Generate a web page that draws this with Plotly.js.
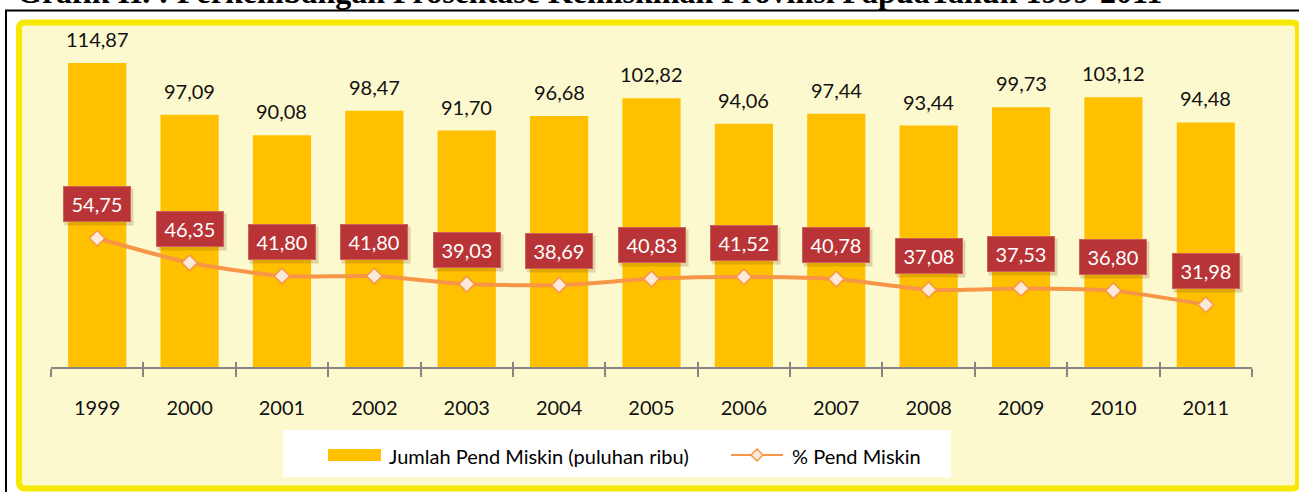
<!DOCTYPE html>
<html><head><meta charset="utf-8">
<script src="https://cdn.plot.ly/plotly-3.0.1.min.js"></script>
<style>html,body{margin:0;padding:0;background:#fff;overflow:hidden}</style>
</head><body>
<div id="chart" style="width:1299px;height:492px"></div>
<script>
// ---- data ----
const years = ['1999','2000','2001','2002','2003','2004','2005','2006','2007','2008','2009','2010','2011'];
const jumlahMiskin = [114.87, 97.09, 90.08, 98.47, 91.70, 96.68, 102.82, 94.06, 97.44, 93.44, 99.73, 103.12, 94.48];
const persenMiskin = [54.75, 46.35, 41.80, 41.80, 39.03, 38.69, 40.83, 41.52, 40.78, 37.08, 37.53, 36.80, 31.98];
const seriesNames = ['Jumlah Pend Miskin (puluhan ribu)', '% Pend Miskin'];
const chartTitle = 'Grafik II. : Perkembangan Prosentase Kemiskinan Provinsi PapuaTahun 1999-2011';

// ---- styling / geometry ----
const W = 1299, H = 492;
const M = {l: 51, r: 47, t: 30, b: 125};
const PW = W - M.l - M.r, PH = H - M.t - M.b;
const px = x => (x - M.l) / PW;
const py = y => (H - M.b - y) / PH;
const fmt = v => v.toFixed(2).replace('.', ',');
const BAR = '#ffc000', LINE = '#f79646', MARK = '#fde9d9';
const FONT = 'Lato, "Open Sans", sans-serif';

function roundRect(x0, y0, x1, y1, r) {
  const X = v => px(v), Y = v => py(v);
  return `M${X(x0 + r)},${Y(y0)} L${X(x1 - r)},${Y(y0)} Q${X(x1)},${Y(y0)} ${X(x1)},${Y(y0 + r)} ` +
         `L${X(x1)},${Y(y1 - r)} Q${X(x1)},${Y(y1)} ${X(x1 - r)},${Y(y1)} ` +
         `L${X(x0 + r)},${Y(y1)} Q${X(x0)},${Y(y1)} ${X(x0)},${Y(y1 - r)} ` +
         `L${X(x0)},${Y(y0 + r)} Q${X(x0)},${Y(y0)} ${X(x0 + r)},${Y(y0)} Z`;
}

const traces = [
  {type: 'bar', x: years, y: jumlahMiskin, name: seriesNames[0],
   marker: {color: BAR}, width: 0.63, showlegend: false, hoverinfo: 'skip'},
  {type: 'scatter', mode: 'lines+markers', x: years, y: persenMiskin, name: seriesNames[1],
   line: {color: LINE, width: 4, shape: 'spline', smoothing: 0.6},
   marker: {symbol: 'diamond', size: 12, color: MARK, line: {color: LINE, width: 1.5}},
   showlegend: false, hoverinfo: 'skip'},
  {type: 'scatter', mode: 'markers', x: years, y: persenMiskin, xaxis: 'x2',
   marker: {opacity: 0}, showlegend: false, hoverinfo: 'skip'}
];

const shapes = [
  // outer black frame
  {type: 'path', xref: 'paper', yref: 'paper', layer: 'below',
   path: `M${px(6)},${py(520)} L${px(6)},${py(10.5)} L${px(1320)},${py(10.5)}`,
   line: {color: '#000', width: 2}},
  // yellow rounded panel
  {type: 'path', xref: 'paper', yref: 'paper', layer: 'below',
   path: roundRect(19, 22.5, 1298, 488.5, 6),
   fillcolor: '#fdf9cf', line: {color: '#f6e800', width: 6}},
  // legend box
  {type: 'rect', xref: 'paper', yref: 'paper', layer: 'below',
   x0: px(283), x1: px(951), y0: py(477), y1: py(430),
   fillcolor: '#ffffff', line: {width: 0}},
  // legend bar swatch
  {type: 'rect', xref: 'paper', yref: 'paper', layer: 'below',
   x0: px(328), x1: px(381), y0: py(461), y1: py(449),
   fillcolor: BAR, line: {width: 0}},
  // legend line
  {type: 'line', xref: 'paper', yref: 'paper', layer: 'below',
   x0: px(731), x1: px(783), y0: py(455), y1: py(455),
   line: {color: LINE, width: 2}},
  // legend diamond
  {type: 'path', xref: 'paper', yref: 'paper', layer: 'below',
   path: `M${px(751)},${py(455)} L${px(757)},${py(449)} L${px(763)},${py(455)} L${px(757)},${py(461)} Z`,
   fillcolor: MARK, line: {color: LINE, width: 1.5}}
];

const annotations = [];
// title (partly cut off at the top, as in the source)
annotations.push({xref: 'paper', yref: 'paper', x: px(15), y: py(12), xanchor: 'left', yanchor: 'bottom',
  text: '<b>' + chartTitle + '</b>', showarrow: false,
  font: {family: '"Liberation Serif", "Times New Roman", serif', size: 32, color: '#000'}});
// bar value labels (x given as category index)
years.forEach((yr, i) => {
  annotations.push({x: i, y: jumlahMiskin[i], xref: 'x', yref: 'y', yanchor: 'bottom', yshift: 10,
    text: fmt(jumlahMiskin[i]), showarrow: false, font: {family: FONT, size: 20, color: '#111'}});
});
// percent labels (shadow box + label box)
years.forEach((yr, i) => {
  annotations.push({x: i, y: persenMiskin[i], xref: 'x', yref: 'y', yanchor: 'middle', yshift: 31, xshift: 2,
    text: ' ', showarrow: false, width: 62, height: 30, borderpad: 3,
    bgcolor: 'rgba(120,80,0,0.22)', font: {family: FONT, size: 20, color: 'rgba(0,0,0,0)'}});
  annotations.push({x: i, y: persenMiskin[i], xref: 'x', yref: 'y', yanchor: 'middle', yshift: 34,
    text: fmt(persenMiskin[i]), showarrow: false, width: 60, height: 28, borderpad: 3,
    bgcolor: '#b83436', bordercolor: '#d0605a', borderwidth: 1,
    font: {family: FONT, size: 20, color: '#ffffff'}});
});
// legend texts
annotations.push({xref: 'paper', yref: 'paper', x: px(387), y: py(456), xanchor: 'left', yanchor: 'middle',
  text: seriesNames[0], showarrow: false, font: {family: FONT, size: 20, color: '#000'}});
annotations.push({xref: 'paper', yref: 'paper', x: px(790), y: py(456), xanchor: 'left', yanchor: 'middle',
  text: seriesNames[1], showarrow: false, font: {family: FONT, size: 20, color: '#000'}});

const layout = {
  width: W, height: H, margin: M,
  paper_bgcolor: '#ffffff', plot_bgcolor: 'rgba(0,0,0,0)',
  showlegend: false, bargap: 0.37,
  xaxis: {type: 'category', range: [-0.5, 12.5], showline: true, linecolor: '#868686', linewidth: 2,
    ticks: 'outside', ticklen: 8, tickwidth: 2, tickcolor: '#868686', tickson: 'boundaries',
    tickfont: {family: FONT, size: 20, color: '#111'}, ticklabelstandoff: 22,
    showgrid: false, zeroline: false, fixedrange: true},
  xaxis2: {type: 'category', overlaying: 'x', anchor: 'y', side: 'bottom', range: [-0.5, 12.5],
    showline: false, ticks: 'inside', ticklen: 5, tickwidth: 2, tickcolor: '#868686', tickson: 'boundaries',
    showticklabels: false, showgrid: false, zeroline: false, fixedrange: true},
  yaxis: {range: [10.6, 126.2], visible: false, showgrid: false, zeroline: false, fixedrange: true},
  shapes: shapes, annotations: annotations
};

Plotly.newPlot('chart', traces, layout, {staticPlot: true, displayModeBar: false});
</script>
</body></html>
